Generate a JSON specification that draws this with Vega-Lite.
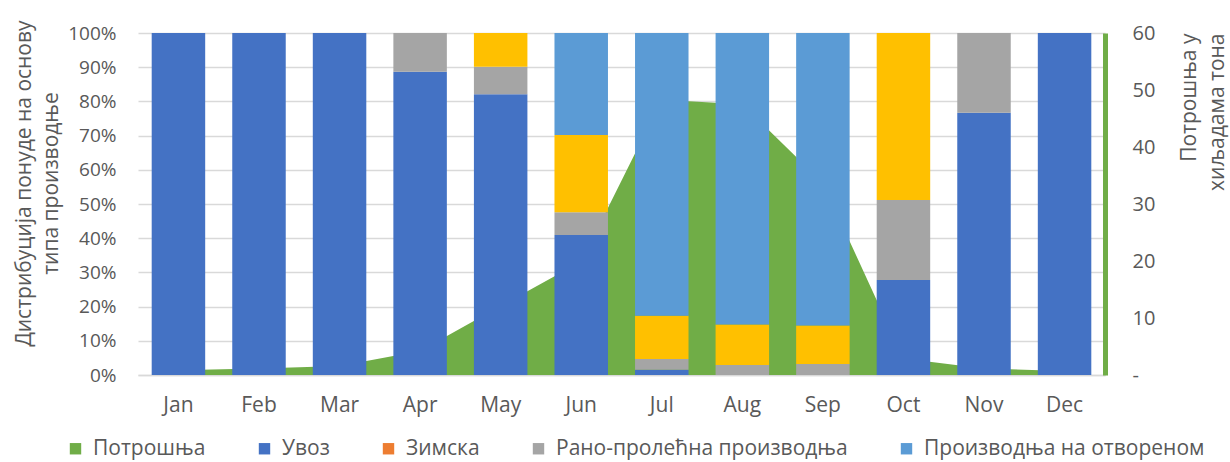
{
  "$schema": "https://vega.github.io/schema/vega-lite/v6.json",
  "width": 967,
  "height": 342,
  "autosize": {"type": "none"},
  "padding": {"left": 138, "top": 33, "right": 125, "bottom": 87},
  "config": {
    "font": "Open Sans",
    "view": {"stroke": null},
    "axis": {"labelColor": "#595959", "titleColor": "#595959", "labelFontSize": 19, "titleFontWeight": "normal", "titleFontSize": 21}
  },
  "datasets": {
    "bars": [
      {"month": "Jan", "series": "Увоз", "pct": 100},
      {"month": "Feb", "series": "Увоз", "pct": 100},
      {"month": "Mar", "series": "Увоз", "pct": 100},
      {"month": "Apr", "series": "Увоз", "pct": 88.7},
      {"month": "Apr", "series": "Рано-пролећна производња", "pct": 11.3},
      {"month": "May", "series": "Увоз", "pct": 82.1},
      {"month": "May", "series": "Рано-пролећна производња", "pct": 8.0},
      {"month": "May", "series": "Пластеничка производња", "pct": 9.9},
      {"month": "Jun", "series": "Увоз", "pct": 40.9},
      {"month": "Jun", "series": "Рано-пролећна производња", "pct": 6.7},
      {"month": "Jun", "series": "Пластеничка производња", "pct": 22.6},
      {"month": "Jun", "series": "Производња на отвореном", "pct": 29.8},
      {"month": "Jul", "series": "Увоз", "pct": 1.5},
      {"month": "Jul", "series": "Рано-пролећна производња", "pct": 3.2},
      {"month": "Jul", "series": "Пластеничка производња", "pct": 12.6},
      {"month": "Jul", "series": "Производња на отвореном", "pct": 82.7},
      {"month": "Aug", "series": "Рано-пролећна производња", "pct": 2.9},
      {"month": "Aug", "series": "Пластеничка производња", "pct": 11.9},
      {"month": "Aug", "series": "Производња на отвореном", "pct": 85.2},
      {"month": "Sep", "series": "Рано-пролећна производња", "pct": 3.2},
      {"month": "Sep", "series": "Пластеничка производња", "pct": 11.3},
      {"month": "Sep", "series": "Производња на отвореном", "pct": 85.5},
      {"month": "Oct", "series": "Увоз", "pct": 27.8},
      {"month": "Oct", "series": "Рано-пролећна производња", "pct": 23.4},
      {"month": "Oct", "series": "Пластеничка производња", "pct": 48.8},
      {"month": "Nov", "series": "Увоз", "pct": 76.7},
      {"month": "Nov", "series": "Рано-пролећна производња", "pct": 23.3},
      {"month": "Dec", "series": "Увоз", "pct": 100}
    ],
    "cons": [
      {"month": "Jan", "series": "Потрошња", "tons": 0.84},
      {"month": "Feb", "series": "Потрошња", "tons": 1.14},
      {"month": "Mar", "series": "Потрошња", "tons": 1.56},
      {"month": "Apr", "series": "Потрошња", "tons": 4.2},
      {"month": "May", "series": "Потрошња", "tons": 12.1},
      {"month": "Jun", "series": "Потрошња", "tons": 19.9},
      {"month": "Jul", "series": "Потрошња", "tons": 48.3},
      {"month": "Aug", "series": "Потрошња", "tons": 47.5},
      {"month": "Sep", "series": "Потрошња", "tons": 33.7},
      {"month": "Oct", "series": "Потрошња", "tons": 2.9},
      {"month": "Nov", "series": "Потрошња", "tons": 1.14},
      {"month": "Dec", "series": "Потрошња", "tons": 0.72}
    ]
  },
  "layer": [
    {
      "data": {"name": "cons"},
      "mark": {"type": "area", "opacity": 1},
      "encoding": {
        "x": {"field": "month", "type": "ordinal", "sort": ["Jan","Feb","Mar","Apr","May","Jun","Jul","Aug","Sep","Oct","Nov","Dec"], "bandPosition": 0.5},
        "y": {
          "field": "tons", "type": "quantitative",
          "scale": {"domain": [0, 60]},
          "axis": {
            "orient": "right", "values": [0,10,20,30,40,50,60], "grid": false, "ticks": false,
            "domain": true, "domainColor": "#70AD47", "domainWidth": 5, "labelFontSize": 20,
            "labelPadding": 27, "labelExpr": "datum.value == 0 ? '-' : datum.label",
            "title": ["Потрошња у", "хиљадама тона"], "titleAngle": -90, "titleAlign": "right", "titleBaseline": "top",
            "titleX": 73, "titleY": 0, "titleLineHeight": 28
          }
        },
        "color": {
          "field": "series", "type": "nominal",
          "scale": {
            "domain": ["Потрошња","Увоз","Зимска","Рано-пролећна производња","Пластеничка производња","Производња на отвореном"],
            "range": ["#70AD47","#4472C4","#ED7D31","#A5A5A5","#FFC000","#5B9BD5"]
          },
          "legend": {
            "values": ["Потрошња","Увоз","Зимска","Рано-пролећна производња","Производња на отвореном"],
            "orient": "none", "legendX": -73, "legendY": 405, "direction": "horizontal", "padding": 0,
            "title": null, "symbolType": "square", "symbolSize": 130, "symbolStrokeWidth": 0,
            "labelFontSize": 21, "labelColor": "#595959", "labelOffset": 7, "columnPadding": 48,
            "labelLimit": 500
          }
        }
      }
    },
    {
      "data": {"name": "bars"},
      "transform": [
        {"calculate": "indexof(['Увоз','Зимска','Рано-пролећна производња','Пластеничка производња','Производња на отвореном'], datum.series)", "as": "stackorder"}
      ],
      "mark": {"type": "bar"},
      "encoding": {
        "x": {
          "field": "month", "type": "ordinal", "sort": ["Jan","Feb","Mar","Apr","May","Jun","Jul","Aug","Sep","Oct","Nov","Dec"],
          "scale": {"paddingInner": 0.336, "paddingOuter": 0.17},
          "axis": {"title": null, "labelAngle": 0, "labelAlign": "center", "labelFontSize": 21, "ticks": false, "domain": true, "domainColor": "#D9D9D9", "domainWidth": 1.3, "labelPadding": 30, "grid": false}
        },
        "y": {
          "field": "pct", "type": "quantitative", "stack": "normalize",
          "axis": {
            "orient": "left", "format": ".0%", "values": [0,0.1,0.2,0.3,0.4,0.5,0.6,0.7,0.8,0.9,1],
            "grid": true, "gridColor": "#D9D9D9", "gridWidth": 1.3, "domain": false, "ticks": false, "labelPadding": 22,
            "title": ["Дистрибуција понуде на основу", "типа производње"], "titleAngle": -90, "titleAlign": "center", "titleBaseline": "top",
            "titleX": -125, "titleY": 150, "titleLineHeight": 27
          }
        },
        "color": {"field": "series", "type": "nominal"},
        "order": {"field": "stackorder", "type": "quantitative", "sort": "ascending"}
      }
    }
  ],
  "resolve": {"scale": {"y": "independent"}}
}
